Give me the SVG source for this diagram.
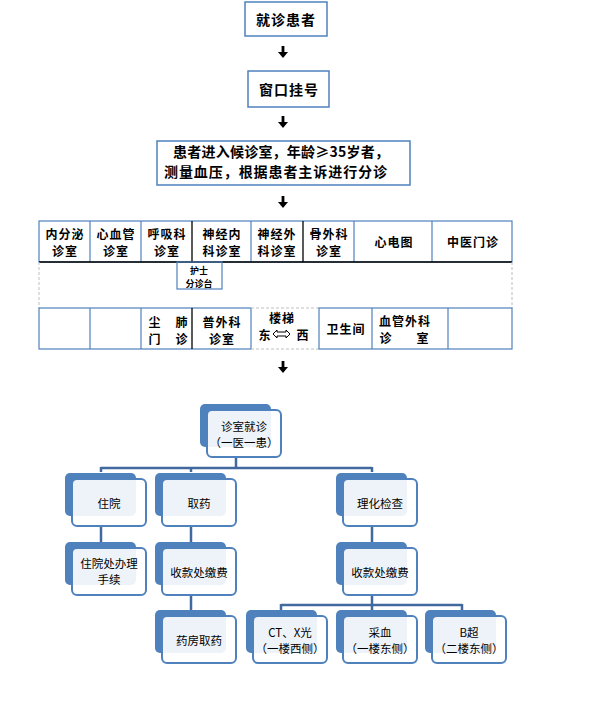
<svg xmlns="http://www.w3.org/2000/svg" width="590" height="709" viewBox="0 0 590 709">
<style>
  .box{fill:#fff;stroke:#4F81BD;stroke-width:1.5}
  .t1{font-family:"Noto Sans CJK SC","Noto Sans",sans-serif;font-weight:bold;font-size:14px;fill:#000;letter-spacing:1px}
  .tb{font-family:"Noto Sans CJK SC","Noto Sans",sans-serif;font-weight:bold;font-size:12px;fill:#000;letter-spacing:1px}
  .ts{font-family:"Noto Sans CJK SC","Noto Sans",sans-serif;font-weight:bold;font-size:9px;fill:#000}
  .tn{font-family:"Noto Sans CJK SC","Noto Sans",sans-serif;font-size:11.5px;fill:#000}
  .cell{fill:none;stroke:#4F81BD;stroke-width:1.2}
  .blk{stroke:#000;stroke-width:1.3;fill:none}
  .dash{stroke:#BFBFBF;stroke-width:1;stroke-dasharray:3,2;fill:none}
  .back{fill:#4F81BD}
  .front{fill:#fff;fill-opacity:0.9;stroke:#4F81BD;stroke-width:2}
  .conn{stroke:#41699E;stroke-width:2.5;fill:none}
</style>
<defs>
  <g id="darrow"><rect x="-1.4" y="0" width="2.8" height="7" fill="#000"/><polygon points="-5,6 5,6 0,12" fill="#000"/></g>
  <g id="node"><rect class="back" x="0" y="0" width="71" height="43" rx="5"/><rect class="front" x="7" y="6" width="74" height="47" rx="5"/></g>
</defs>

<!-- flow steps -->
<g id="step1"><rect class="box" x="245" y="2" width="82" height="34"/><text class="t1" x="286" y="19" text-anchor="middle" dominant-baseline="central">就诊患者</text></g>
<g id="step2"><rect class="box" x="248" y="71" width="81" height="36"/><text class="t1" x="289" y="89" text-anchor="middle" dominant-baseline="central">窗口挂号</text></g>
<g id="step3"><rect class="box" x="157" y="141" width="253" height="44"/>
  <text class="t1" x="173" y="151" dominant-baseline="central" textLength="217" lengthAdjust="spacing">患者进入候诊室，年龄≥35岁者，</text>
  <text class="t1" x="164" y="171" dominant-baseline="central" textLength="224" lengthAdjust="spacing">测量血压，根据患者主诉进行分诊</text></g>

<g id="arrows">
  <use href="#darrow" x="283" y="46"/>
  <use href="#darrow" x="283" y="116"/>
  <use href="#darrow" x="283" y="196"/>
  <use href="#darrow" x="283" y="361"/>
</g>

<!-- floor plan table -->
<g id="floorplan">
  <rect class="cell" x="39" y="221" width="473" height="41"/>
  <line class="cell" x1="90" y1="221" x2="90" y2="262"/>
  <line class="cell" x1="141" y1="221" x2="141" y2="262"/>
  <line class="cell" x1="251" y1="221" x2="251" y2="262"/>
  <line class="cell" x1="354" y1="221" x2="354" y2="262"/>
  <line class="cell" x1="432" y1="221" x2="432" y2="262"/>
  <line class="blk" x1="192" y1="221" x2="192" y2="262"/>
  <line class="blk" x1="303" y1="221" x2="303" y2="262"/>
  <line class="blk" x1="39" y1="262" x2="512" y2="262"/>
  <line class="dash" x1="39" y1="262" x2="39" y2="308"/>
  <line class="dash" x1="512" y1="262" x2="512" y2="308"/>
  <rect class="cell" x="39" y="308" width="212" height="41"/>
  <line class="cell" x1="90" y1="308" x2="90" y2="349"/>
  <line class="cell" x1="141" y1="308" x2="141" y2="349"/>
  <line class="blk" x1="192" y1="308" x2="192" y2="349"/>
  <line class="dash" x1="251" y1="308" x2="319" y2="308"/>
  <line class="dash" x1="251" y1="349" x2="319" y2="349"/>
  <rect class="cell" x="319" y="308" width="193" height="41"/>
  <line class="cell" x1="372" y1="308" x2="372" y2="349"/>
  <line class="cell" x1="448" y1="308" x2="448" y2="349"/>

  <g class="tb" text-anchor="middle" dominant-baseline="central">
    <text x="65" y="233">内分泌</text><text x="65" y="250">诊室</text>
    <text x="116" y="233">心血管</text><text x="116" y="250">诊室</text>
    <text x="167" y="233">呼吸科</text><text x="167" y="250">诊室</text>
    <text x="222" y="233">神经内</text><text x="222" y="250">科诊室</text>
    <text x="277" y="233">神经外</text><text x="277" y="250">科诊室</text>
    <text x="329" y="233">骨外科</text><text x="329" y="250">诊室</text>
    <text x="394" y="241">心电图</text>
    <text x="473" y="241">中医门诊</text>
    <text x="155" y="321">尘</text><text x="182" y="321">肺</text>
    <text x="155" y="338">门</text><text x="182" y="338">诊</text>
    <text x="222" y="321">普外科</text><text x="222" y="338">诊室</text>
    <text x="282" y="317">楼梯</text>
    <text x="265" y="334">东</text><text x="303" y="334">西</text>
    <text x="346" y="328">卫生间</text>
    <text x="405" y="320">血管外科</text>
    <text x="386" y="337">诊</text><text x="423" y="337">室</text>
  </g>
  <polygon points="273,334 277,330 277,332 286,332 286,330 290,334 286,338 286,336 277,336 277,338" fill="#fff" stroke="#000" stroke-width="1"/>
</g>
<g id="nurse"><rect class="cell" x="177" y="262" width="45" height="27" fill="#fff"/>
  <text class="ts" x="199" y="270" text-anchor="middle" dominant-baseline="central">护士</text>
  <text class="ts" x="199" y="283" text-anchor="middle" dominant-baseline="central">分诊台</text></g>

<!-- hierarchy connectors -->
<g id="connectors">
  <path class="conn" d="M236,457 V468 M101,468 H372 M101,467 V472 M191,467 V472 M372,467 V472"/>
  <path class="conn" d="M101,526 V542 M191,526 V542 M191,595 V610 M372,526 V542"/>
  <path class="conn" d="M372,594 V605 M281,605 H462 M281,604 V610 M372,604 V610 M462,604 V610"/>
</g>

<g id="n_root"><use href="#node" x="200" y="404"/><text class="tn" x="244" y="426" text-anchor="middle" dominant-baseline="central">诊室就诊</text><text class="tn" x="244" y="442" text-anchor="middle" dominant-baseline="central">（一医一患）</text></g>
<g id="n_zy"><use href="#node" x="65" y="473"/><text class="tn" x="109" y="503" text-anchor="middle" dominant-baseline="central">住院</text></g>
<g id="n_qy"><use href="#node" x="155" y="473"/><text class="tn" x="199" y="503" text-anchor="middle" dominant-baseline="central">取药</text></g>
<g id="n_lh"><use href="#node" x="336" y="473"/><text class="tn" x="380" y="503" text-anchor="middle" dominant-baseline="central">理化检查</text></g>
<g id="n_zysx"><use href="#node" x="65" y="542"/><text class="tn" x="109" y="563" text-anchor="middle" dominant-baseline="central">住院处办理</text><text class="tn" x="109" y="579" text-anchor="middle" dominant-baseline="central">手续</text></g>
<g id="n_sk1"><use href="#node" x="155" y="542"/><text class="tn" x="199" y="572" text-anchor="middle" dominant-baseline="central">收款处缴费</text></g>
<g id="n_sk2"><use href="#node" x="336" y="542"/><text class="tn" x="380" y="572" text-anchor="middle" dominant-baseline="central">收款处缴费</text></g>
<g id="n_yf"><use href="#node" x="155" y="610"/><text class="tn" x="199" y="640" text-anchor="middle" dominant-baseline="central">药房取药</text></g>
<g id="n_ct"><use href="#node" x="246" y="610"/><text class="tn" x="290" y="632" text-anchor="middle" dominant-baseline="central">CT、X光</text><text class="tn" x="290" y="648" text-anchor="middle" dominant-baseline="central">（一楼西侧）</text></g>
<g id="n_cx"><use href="#node" x="336" y="610"/><text class="tn" x="380" y="632" text-anchor="middle" dominant-baseline="central">采血</text><text class="tn" x="380" y="648" text-anchor="middle" dominant-baseline="central">（一楼东侧）</text></g>
<g id="n_bc"><use href="#node" x="425" y="610"/><text class="tn" x="469" y="632" text-anchor="middle" dominant-baseline="central">B超</text><text class="tn" x="469" y="648" text-anchor="middle" dominant-baseline="central">（二楼东侧）</text></g>
</svg>
